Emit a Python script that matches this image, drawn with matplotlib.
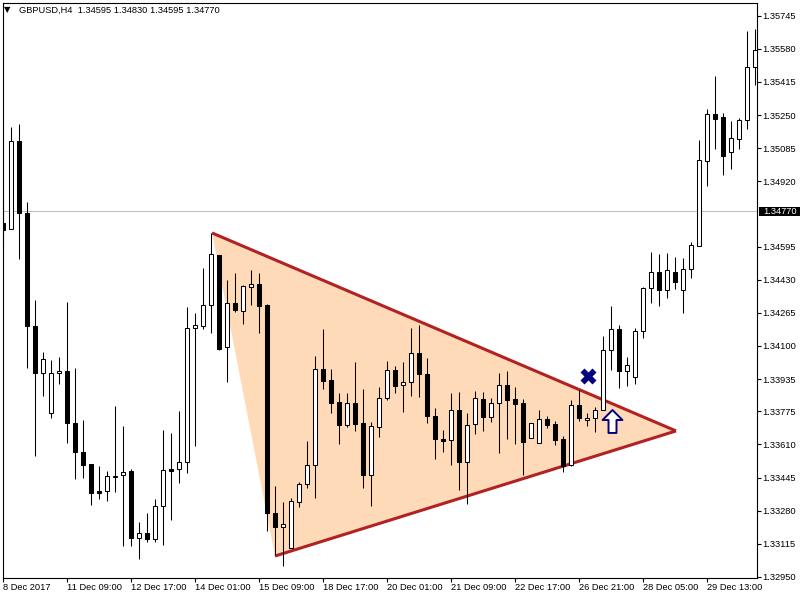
import numpy as np
import matplotlib
matplotlib.use('Agg')
import matplotlib.pyplot as plt
import matplotlib.transforms as mtransforms
from matplotlib.patches import Rectangle, Polygon
from matplotlib.path import Path

plt.rcParams['font.family'] = ['Liberation Sans', 'DejaVu Sans']

# GBPUSD H4 candles
opens = np.array([
    1.34712, 1.34683, 1.35121, 1.34762, 1.34200, 1.33965, 1.33766, 1.33965, 1.33975, 1.33716,
    1.33572, 1.33512, 1.33378, 1.33378, 1.33450, 1.33458, 1.33477, 1.33144, 1.33169, 1.33139,
    1.33303, 1.33487, 1.33487, 1.33522, 1.34190, 1.34200, 1.34304, 1.34553, 1.34095, 1.34314,
    1.34274, 1.34394, 1.34409, 1.34304, 1.33268, 1.33199, 1.33094, 1.33323, 1.33413, 1.33507,
    1.33985, 1.33931, 1.33821, 1.33707, 1.33816, 1.33716, 1.33458, 1.33697, 1.33841, 1.33980,
    1.33906, 1.33921, 1.34065, 1.33960, 1.33751, 1.33637, 1.33632, 1.33781, 1.33522, 1.33711,
    1.33836, 1.33746, 1.33816, 1.33906, 1.33836, 1.33816, 1.33642, 1.33617, 1.33736, 1.33711,
    1.33637, 1.33507, 1.33806, 1.33731, 1.33741, 1.33781, 1.34080, 1.34185, 1.33975, 1.33946,
    1.34175, 1.34389, 1.34468, 1.34379, 1.34468, 1.34379, 1.34483, 1.34598, 1.35021, 1.35255,
    1.35240, 1.35066, 1.35131, 1.35225, 1.35489])
highs = np.array([
    1.34852, 1.35191, 1.35205, 1.34817, 1.34329, 1.34070, 1.34030, 1.34045, 1.34319, 1.33990,
    1.33731, 1.33512, 1.33502, 1.33477, 1.33801, 1.33702, 1.33487, 1.33223, 1.33268, 1.33338,
    1.33682, 1.33667, 1.33776, 1.34294, 1.34264, 1.34488, 1.34663, 1.34553, 1.34429, 1.34463,
    1.34404, 1.34478, 1.34463, 1.34309, 1.33403, 1.33323, 1.33343, 1.33423, 1.33627, 1.34050,
    1.34185, 1.33985, 1.33866, 1.33866, 1.34020, 1.33886, 1.33721, 1.33896, 1.34025, 1.34000,
    1.34020, 1.34190, 1.34205, 1.34040, 1.33791, 1.33682, 1.33866, 1.33871, 1.33766, 1.33876,
    1.33871, 1.33841, 1.33965, 1.33975, 1.33896, 1.33836, 1.33716, 1.33781, 1.33751, 1.33726,
    1.33652, 1.33831, 1.33881, 1.33766, 1.33796, 1.34150, 1.34299, 1.34205, 1.34045, 1.34190,
    1.34394, 1.34568, 1.34558, 1.34563, 1.34543, 1.34538, 1.34618, 1.35126, 1.35280, 1.35445,
    1.35260, 1.35220, 1.35235, 1.35669, 1.35679])
lows = np.array([
    1.34598, 1.34683, 1.34533, 1.33990, 1.33552, 1.33851, 1.33741, 1.33911, 1.33617, 1.33438,
    1.33443, 1.33308, 1.33338, 1.33328, 1.33373, 1.33104, 1.33104, 1.33039, 1.33124, 1.33124,
    1.33109, 1.33233, 1.33418, 1.33467, 1.33602, 1.34185, 1.34165, 1.34080, 1.33921, 1.34269,
    1.34209, 1.34304, 1.34165, 1.33179, 1.33059, 1.33004, 1.33094, 1.33298, 1.33393, 1.33343,
    1.33886, 1.33766, 1.33612, 1.33697, 1.33677, 1.33393, 1.33303, 1.33647, 1.33831, 1.33866,
    1.33771, 1.33851, 1.33846, 1.33716, 1.33537, 1.33572, 1.33507, 1.33383, 1.33313, 1.33662,
    1.33677, 1.33721, 1.33567, 1.33637, 1.33612, 1.33458, 1.33642, 1.33617, 1.33692, 1.33607,
    1.33472, 1.33502, 1.33726, 1.33702, 1.33672, 1.33781, 1.33980, 1.33891, 1.33901, 1.33911,
    1.34140, 1.34314, 1.34299, 1.34339, 1.34384, 1.34264, 1.34439, 1.34598, 1.34897, 1.35081,
    1.34952, 1.34981, 1.35081, 1.35181, 1.35400])
closes = np.array([
    1.34678, 1.35121, 1.34762, 1.34200, 1.33965, 1.34035, 1.33965, 1.33975, 1.33716, 1.33572,
    1.33507, 1.33368, 1.33368, 1.33453, 1.33453, 1.33472, 1.33144, 1.33169, 1.33139, 1.33303,
    1.33482, 1.33477, 1.33522, 1.34190, 1.34205, 1.34304, 1.34558, 1.34085, 1.34314, 1.34279,
    1.34399, 1.34409, 1.34299, 1.33268, 1.33199, 1.33213, 1.33328, 1.33413, 1.33507, 1.33985,
    1.33926, 1.33816, 1.33707, 1.33816, 1.33711, 1.33458, 1.33702, 1.33841, 1.33980, 1.33901,
    1.33921, 1.34065, 1.33960, 1.33751, 1.33637, 1.33627, 1.33781, 1.33522, 1.33707, 1.33841,
    1.33746, 1.33816, 1.33906, 1.33831, 1.33811, 1.33622, 1.33716, 1.33736, 1.33707, 1.33632,
    1.33502, 1.33806, 1.33741, 1.33741, 1.33781, 1.34080, 1.34185, 1.33975, 1.34005, 1.34175,
    1.34389, 1.34468, 1.34379, 1.34478, 1.34419, 1.34483, 1.34603, 1.35026, 1.35255, 1.35230,
    1.35046, 1.35136, 1.35225, 1.35489, 1.35574])

date_ticks = [0, 8, 16, 24, 32, 40, 48, 56, 64, 72, 80, 88]
date_labels = ['8 Dec 2017', '11 Dec 09:00', '12 Dec 17:00', '14 Dec 01:00', '15 Dec 09:00',
               '18 Dec 17:00', '20 Dec 01:00', '21 Dec 09:00', '22 Dec 17:00', '26 Dec 21:00',
               '28 Dec 05:00', '29 Dec 13:00']
price_ticks = [1.35745, 1.35580, 1.35415, 1.35250, 1.35085, 1.34920, 1.34595, 1.34430,
               1.34265, 1.34100, 1.33935, 1.33775, 1.33610, 1.33445, 1.33280, 1.33115, 1.32950]
current_price = 1.34770
header = 'GBPUSD,H4  1.34595 1.34830 1.34595 1.34770'

# triangle pattern points (bar index, price)
tri_x = [26.09, 33.96, 84.09]
tri_y = [1.34663, 1.33054, 1.33677]
cross_pt = (73.03, 1.33951)
arrow_pt = (76.09, 1.33724)

fig = plt.figure(figsize=(8, 6), dpi=100)
ax = fig.add_axes([2.5 / 800, 22 / 600, 754.2 / 800, 575.3 / 600])
ax.set_xlim(-0.1, 94.175)
ax.set_ylim(1.329446, 1.358096)

# triangle fill and its two red sides
ax.add_patch(Polygon(list(zip(tri_x, tri_y)), closed=True, facecolor='#FFDAB9',
                     edgecolor='none', zorder=1))
ax.plot([tri_x[0], tri_x[2]], [tri_y[0], tri_y[2]], color='#B22222', lw=2.2,
        solid_capstyle='butt', zorder=2)
ax.plot([tri_x[1], tri_x[2]], [tri_y[1], tri_y[2]], color='#B22222', lw=2.2,
        solid_capstyle='butt', zorder=2)

ax.axhline(current_price, color='#C0C0C0', lw=0.8, zorder=0.5)

# candles
x = np.arange(len(opens))
up = closes >= opens
ax.vlines(x, lows, highs, color='black', linewidth=0.75, zorder=3)
for i in x:
    lo, hi = sorted((opens[i], closes[i]))
    ax.add_patch(Rectangle((i - 0.25, lo), 0.5, hi - lo,
                           facecolor='white' if up[i] else 'black',
                           edgecolor='black', linewidth=0.75, zorder=4))

# signal marks
ax.plot(*cross_pt, marker='X', ms=11, color='#000080', mec='none', zorder=6)
arrow = Path([(0, 11.5), (10, 1.5), (4, 1.5), (4, -11.5), (-4, -11.5), (-4, 1.5),
              (-10, 1.5), (0, 11.5)],
             [Path.MOVETO] + [Path.LINETO] * 6 + [Path.CLOSEPOLY])
ax.plot(*arrow_pt, marker=arrow, ms=16.5, mfc='white', mec='#000080', mew=1.4, zorder=6)

# axes styling
for s in ax.spines.values():
    s.set_linewidth(0.8)
ax.yaxis.tick_right()
ax.set_yticks(price_ticks)
ax.set_yticklabels(['%.5f' % p for p in price_ticks])
ax.set_xticks(date_ticks)
ax.set_xticklabels(date_labels)
for lab in ax.get_xticklabels():
    lab.set_ha('left')
ax.tick_params(axis='y', direction='out', length=2.6, width=0.8, pad=1.6, labelsize=6.7)
ax.tick_params(axis='x', direction='out', length=2.8, width=0.8, pad=0.8, labelsize=6.7)

# current price label on the price scale
blend = mtransforms.blended_transform_factory(ax.transAxes, ax.transData)
ax.add_patch(Rectangle((1.003, current_price - 0.000225), 0.055, 0.00045, transform=blend,
                       facecolor='black', edgecolor='none', clip_on=False, zorder=7))
ax.text(1.0084, current_price, '%.5f' % current_price, transform=blend, color='white',
        fontsize=6.7, va='center', ha='left', clip_on=False, zorder=8)

fig.text(3.5 / 800, 1 - 10 / 600, '\u25bc', fontsize=6, va='center', ha='left',
         family=['DejaVu Sans'])
fig.text(19 / 800, 1 - 10.3 / 600, header, fontsize=6.7, va='center', ha='left')

fig.savefig('out.png', dpi=100)
